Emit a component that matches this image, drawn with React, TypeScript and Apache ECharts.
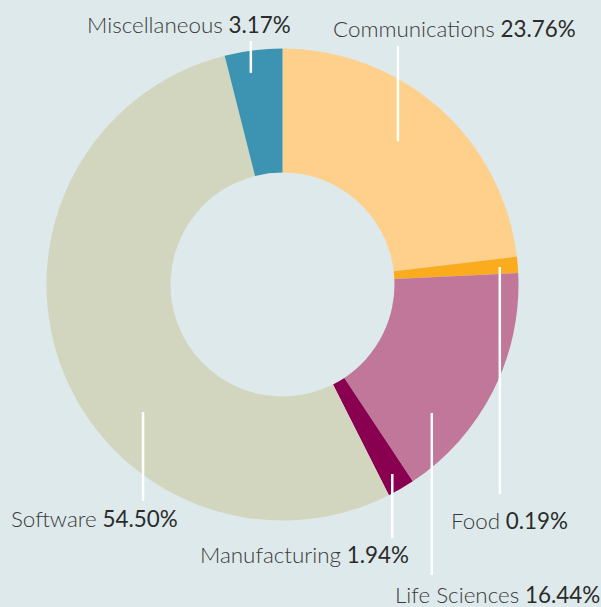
import React, { useEffect, useRef } from 'react';
import * as echarts from 'echarts';

// ---- data ----
const categories = ['Communications', 'Food', 'Life Sciences', 'Manufacturing', 'Software', 'Miscellaneous'];
// drawn share of each slice (as measured from the ring)
const sliceShares = [23.11, 1.11, 16.47, 1.86, 53.5, 3.94];
// percentages printed in the labels
const labelPercents = ['23.76%', '0.19%', '16.44%', '1.94%', '54.50%', '3.17%'];

// ---- styles ----
const colors = ['#fed08c', '#fbab1e', '#c07799', '#8a0050', '#d3d6bf', '#3d93b2'];
const BG = '#dde9ea';
const CENTER = [282.5, 284.5];
const RADII = [112, 236];
const FONT_SIZE = 22.4;

// callout layout: anchor inside slice (fraction of slice angle, radius), line end, label anchor
const callouts = [
  { frac: 0.467, r: 184, lineEndY: 46, labelX: 333, labelY: 28 },
  { frac: 0.55, r: 218, lineEndY: 494, labelX: 451, labelY: 520.5 },
  { frac: 0.734, r: 197, lineEndY: 575, labelX: 395, labelY: 594.5 },
  { frac: 0.51, r: 219, lineEndY: 538, labelX: 200, labelY: 554 },
  { frac: 0.386, r: 189, lineEndY: 501, labelX: 11, labelY: 518.5 },
  { frac: 0.4, r: 214, lineEndY: 41, labelX: 87, labelY: 24 },
];

export default function App() {
  const ref = useRef<HTMLDivElement>(null);
  useEffect(() => {
    if (!ref.current) return;
    const chart = echarts.init(ref.current, null, { renderer: 'svg' });
    const total = sliceShares.reduce((a, b) => a + b, 0);
    const starts: number[] = [];
    let acc = 0;
    sliceShares.forEach((v) => {
      starts.push(acc);
      acc += (v / total) * 360;
    });
    const base = {
      type: 'pie',
      center: CENTER,
      radius: RADII,
      startAngle: 90,
      clockwise: true,
      avoidLabelOverlap: false,
      silent: true,
    };
    chart.setOption({
      animation: false,
      backgroundColor: BG,
      series: [
        {
          ...base,
          z: 1,
          itemStyle: { borderWidth: 0 },
          data: categories.map((name, i) => ({
            name,
            value: sliceShares[i],
            itemStyle: { color: colors[i] },
          })),
          label: { show: false },
          labelLine: { show: false },
        },
        {
          ...base,
          z: 5,
          itemStyle: { color: 'rgba(0,0,0,0)', borderWidth: 0 },
          data: categories.map((name, i) => ({ name, value: sliceShares[i] })),
          label: {
            show: true,
            position: 'outside',
            fontFamily: 'Lato',
            fontSize: FONT_SIZE,
            color: '#3a3a3a',
            formatter: (p: any) => `{n|${p.name}} {v|${labelPercents[p.dataIndex]}}`,
            rich: {
              n: { fontFamily: 'Lato', fontWeight: 300, fontSize: FONT_SIZE, color: '#3a3a3a' },
              v: { fontFamily: 'Lato', fontWeight: 400, fontSize: FONT_SIZE, color: '#2b2b2b' },
            },
          },
          labelLine: {
            show: true,
            length: 10,
            length2: 10,
            smooth: false,
            lineStyle: { color: '#ffffff', width: 2.5 },
          },
          labelLayout: (params: any) => {
            const i = params.dataIndex;
            const c = callouts[i];
            const span = (sliceShares[i] / total) * 360;
            const ang = ((starts[i] + c.frac * span) * Math.PI) / 180;
            const x = CENTER[0] + c.r * Math.sin(ang);
            const y = CENTER[1] - c.r * Math.cos(ang);
            return {
              x: c.labelX,
              y: c.labelY,
              align: 'left',
              verticalAlign: 'middle',
              labelLinePoints: [
                [x, y],
                [x, c.lineEndY],
                [x, c.lineEndY],
              ],
            };
          },
        },
      ],
    });
    return () => chart.dispose();
  }, []);
  return (
    <div
      ref={ref}
      style={{ position: 'fixed', left: 0, top: 0, width: 601, height: 607, background: BG }}
    />
  );
}
